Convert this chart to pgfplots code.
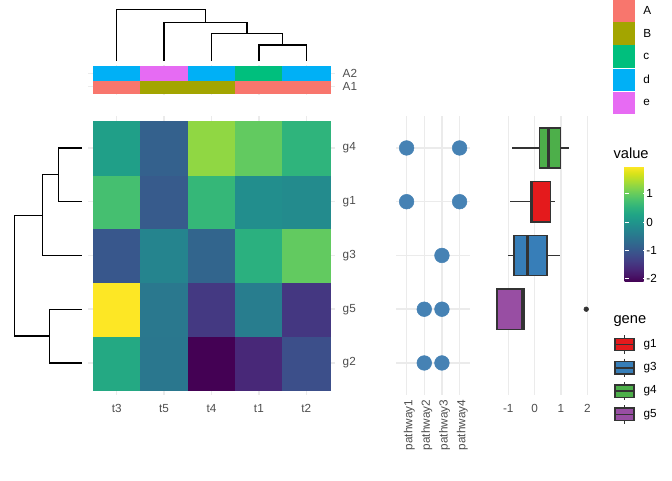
\documentclass[border=0pt]{standalone}
\usepackage{fontspec}
\setmainfont{Liberation Sans}
\usepackage{pgfplots}
\usepackage{pgfplotstable}
\pgfplotsset{compat=1.18}
\usepgfplotslibrary{statistics}

\definecolor{gridc}{HTML}{EBEBEB}
\definecolor{tickc}{HTML}{4D4D4D}
\definecolor{boxc}{HTML}{333333}
\definecolor{dotc}{HTML}{4682B4}
\definecolor{g1c}{HTML}{E41A1C}
\definecolor{g3c}{HTML}{377EB8}
\definecolor{g4c}{HTML}{4DAF4A}
\definecolor{g5c}{HTML}{984EA3}
\definecolor{aA}{HTML}{F8766D}
\definecolor{aB}{HTML}{A3A500}
\definecolor{aC}{HTML}{00BF7D}
\definecolor{aD}{HTML}{00B0F6}
\definecolor{aE}{HTML}{E76BF3}

\newcommand\tsz{\fontsize{8.8}{10.5}\selectfont}
\newcommand\ttl{\fontsize{11}{13}\selectfont}

\pgfplotsset{
  gg/.style={scale only axis, anchor=north west,
    axis line style={draw=none}, major tick length=0pt,
    major grid style={draw=gridc, line width=1.07pt},
    ticklabel style={font=\tsz, text=tickc},
    /pgf/number format/assume math mode=true},
  dendro/.style={black, line width=0.95pt},
  bx/.style 2 args={boxplot prepared={#1, box extend=0.75, whisker extend=0,
    every box/.style={draw=boxc, fill=#2, line width=1.07pt},
    every whisker/.style={draw=boxc, line width=1.07pt},
    every median/.style={draw=boxc, line width=2.1pt}}, draw=boxc},
}

% heatmap values, columns t3 t5 t4 t1 t2, rows g2 g5 g3 g1 g4
\pgfplotstableread{
x y c
1 1 0.35
2 1 -0.50
3 1 -2.10
4 1 -1.65
5 1 -1.12
1 2 1.96
2 2 -0.47
3 2 -1.43
4 2 -0.39
5 2 -1.45
1 3 -1.01
2 3 -0.27
3 3 -0.79
4 3 0.47
5 3 0.98
1 4 0.76
2 4 -0.95
3 4 0.60
4 4 -0.10
5 4 -0.16
1 5 0.18
2 5 -0.86
3 5 1.29
4 5 0.98
5 5 0.54
}\heat

% annotation: 0=A 1=B 2=c 3=d 4=e
\pgfplotstableread{
x y c
1 1 0
2 1 1
3 1 1
4 1 0
5 1 0
1 2 3
2 2 4
3 2 3
4 2 2
5 2 3
}\anno

\begin{document}
\begin{tikzpicture}
\path[use as bounding box] (0,0) rectangle (504pt,-360pt);

% top dendrogram
\begin{axis}[scale only axis, anchor=north west, at={(66.225pt,-6.975pt)},
  width=184.8pt, height=38.775pt, xmin=0.4, xmax=5.6, ymin=0, ymax=51.7,
  hide axis, clip=false]
\addplot[dendro] coordinates {(4,0) (4,16) (5,16) (5,0)};
\addplot[dendro] coordinates {(3,0) (3,27.7) (4.5,27.7) (4.5,16)};
\addplot[dendro] coordinates {(2,0) (2,38.7) (3.75,38.7) (3.75,27.7)};
\addplot[dendro] coordinates {(1,0) (1,51.7) (2.875,51.7) (2.875,38.7)};
\end{axis}

% annotation bars
\begin{axis}[gg, at={(66.225pt,-48.975pt)}, width=184.8pt, height=22.05pt,
  xmin=0.4, xmax=5.6, ymin=0.4, ymax=2.6,
  xtick={1,...,5}, xticklabels={}, ytick={1,2}, yticklabels={A1,A2},
  yticklabel pos=right, yticklabel style={xshift=2.5pt}, grid=major,
  colormap={anno}{rgb255=(248,118,109) rgb255=(163,165,0) rgb255=(0,191,125)
    rgb255=(0,176,246) rgb255=(231,107,243)},
  point meta min=0, point meta max=4]
\addplot[matrix plot*, mesh/cols=5, point meta=explicit] table[meta=c] {\anno};
\end{axis}

% left dendrogram
\begin{axis}[scale only axis, anchor=north west, at={(10.725pt,-86.775pt)},
  width=50.55pt, height=209.625pt, xmin=0, xmax=67.4, ymin=0.4, ymax=5.6,
  hide axis, clip=false]
\addplot[dendro] coordinates {(67.4,5) (44,5) (44,4) (67.4,4)};
\addplot[dendro] coordinates {(44,4.5) (28,4.5) (28,3) (67.4,3)};
\addplot[dendro] coordinates {(67.4,2) (35,2) (35,1) (67.4,1)};
\addplot[dendro] coordinates {(28,3.75) (0,3.75) (0,1.5) (35,1.5)};
\end{axis}

% heatmap
\begin{axis}[gg, at={(66.225pt,-86.775pt)}, width=184.8pt, height=209.625pt,
  xmin=0.4, xmax=5.6, ymin=0.4, ymax=5.6,
  xtick={1,...,5}, xticklabels={t3,t5,t4,t1,t2},
  ytick={1,...,5}, yticklabels={g2,g5,g3,g1,g4},
  yticklabel pos=right, yticklabel style={xshift=2.5pt},
  xticklabel style={yshift=-3.5pt}, grid=major,
  colormap/viridis, point meta min=-2.1, point meta max=1.96,
  colorbar,
  colorbar style={
    at={(parent axis.north east)}, anchor=north west,
    xshift=208.95pt, yshift=-38.25pt,
    scale only axis, width=16.8pt, height=86.25pt,
    ytick={-2,-1,0,1}, yticklabels={-2,-1,0,1},
    ytick pos=both, yticklabel pos=right, tick align=inside,
    major tick length=3.4pt, ytick style={draw=white, line width=0.6pt},
    axis line style={draw=none},
    yticklabel style={font=\tsz, text=black, xshift=-4pt},
  }]
\addplot[matrix plot*, mesh/cols=5, point meta=explicit] table[meta=c] {\heat};
\end{axis}

% pathway dot plot
\begin{axis}[gg, at={(297pt,-86.775pt)}, width=55.65pt, height=209.625pt,
  xmin=0.4, xmax=4.6, ymin=0.4, ymax=5.6,
  xtick={1,...,4}, xticklabels={pathway1,pathway2,pathway3,pathway4},
  xticklabel style={rotate=90, anchor=east, yshift=-2pt},
  ytick={1,...,5}, yticklabels={}, grid=major]
\addplot[only marks, mark=*, color=dotc, mark size=5.5pt]
  coordinates {(1,5) (4,5) (1,4) (4,4) (3,3) (2,2) (3,2) (2,1) (3,1)};
\end{axis}

% boxplots
\begin{axis}[gg, at={(369.375pt,-86.775pt)}, width=73.46pt, height=209.625pt,
  xmin=-1.6, xmax=2.12, ymin=0.4, ymax=5.6,
  xtick={-1,0,1,2}, xticklabels={-1,0,1,2}, xticklabel style={yshift=-3.5pt},
  ytick=\empty, xmajorgrids, boxplot/draw direction=x]
\addplot[bx={draw position=5, lower whisker=-0.86, lower quartile=0.18,
  median=0.54, upper quartile=0.98, upper whisker=1.29}{g4c}] coordinates {};
\addplot[bx={draw position=4, lower whisker=-0.95, lower quartile=-0.16,
  median=-0.10, upper quartile=0.60, upper whisker=0.76}{g1c}] coordinates {};
\addplot[bx={draw position=3, lower whisker=-1.01, lower quartile=-0.79,
  median=-0.27, upper quartile=0.47, upper whisker=0.98}{g3c}] coordinates {};
\addplot[bx={draw position=2, lower whisker=-1.43, lower quartile=-1.43,
  median=-0.47, upper quartile=-0.39, upper whisker=-0.39}{g5c}] coordinates {};
\addplot[only marks, mark=*, color=boxc, mark size=1.75pt]
  coordinates {(1.96,2)};
\end{axis}

% legends
\begin{scope}[x=0.75pt, y=-0.75pt]
\fill[aA] (613.3,-1.4) rectangle (635,21.7);
\fill[aB] (613.3,21.7) rectangle (635,44.8);
\fill[aC] (613.3,44.8) rectangle (635,67.9);
\fill[aD] (613.3,67.9) rectangle (635,91);
\fill[aE] (613.3,91) rectangle (635,114.1);
\draw[white, line width=0.5pt] (613.3,67.9) -- (635,67.9) (613.3,91) -- (635,91);
\foreach \yy/\lab in {10.2/A, 33.3/B, 56.4/c, 79.5/d, 102.6/e}
  \node[anchor=west, inner sep=0pt, font=\tsz] at (643,\yy) {\lab};

\node[anchor=base west, inner sep=0pt, font=\ttl] at (613.3,158.5) {value};
\node[anchor=base west, inner sep=0pt, font=\ttl] at (613.3,323.7) {gene};
\foreach \cy/\col/\lab in {344.5/g1c/g1, 367.8/g3c/g3, 391.1/g4c/g4, 414.4/g5c/g5} {
  \draw[boxc, line width=1.07pt] (624.5,\cy-9.3) -- (624.5,\cy+9.3);
  \filldraw[fill=\col, draw=boxc, line width=1.07pt] (615,\cy-6.2) rectangle (634,\cy+6.2);
  \draw[boxc, line width=1.07pt] (615,\cy) -- (634,\cy);
  \node[anchor=west, inner sep=0pt, font=\tsz] at (643.3,\cy) {\lab};
}
\end{scope}
\end{tikzpicture}
\end{document}
